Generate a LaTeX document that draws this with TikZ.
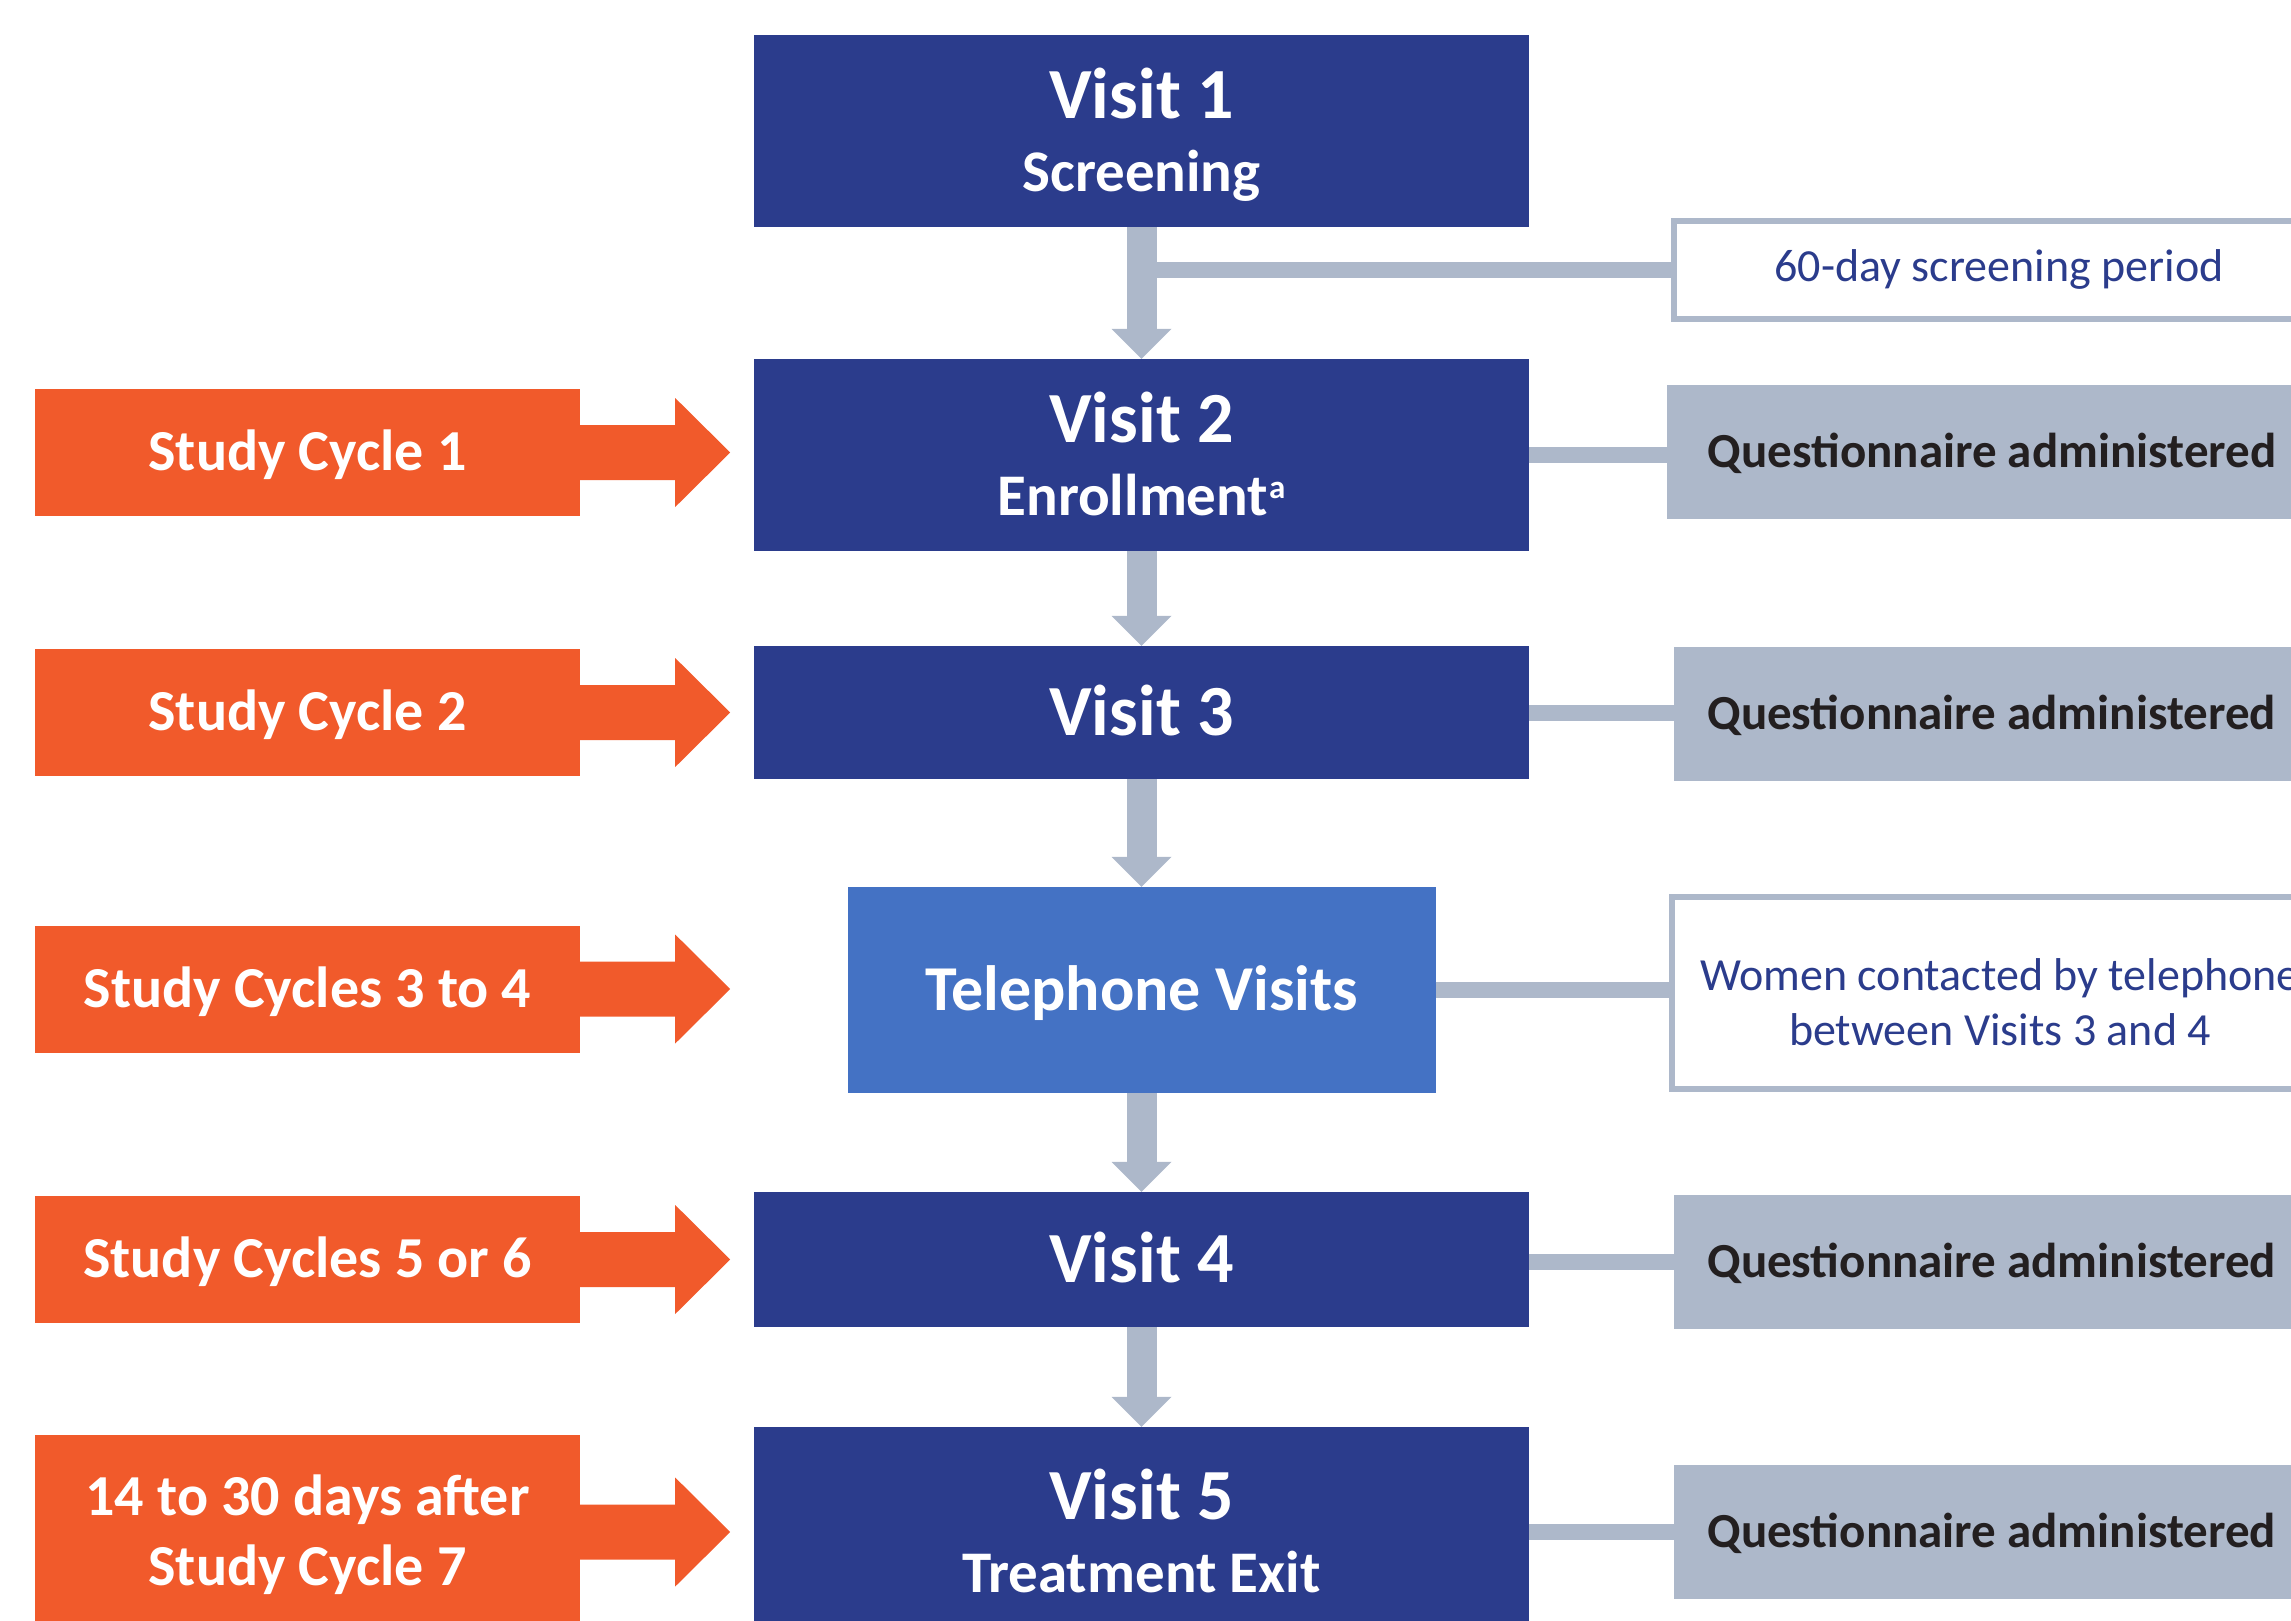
\documentclass[tikz,border=0pt]{standalone}
\usepackage{fontspec}
\setmainfont{Carlito}
\usetikzlibrary{arrows.meta}
\definecolor{vblue}{HTML}{2B3C8C}
\definecolor{tblue}{HTML}{4472C4}
\definecolor{orng}{HTML}{F15A2B}
\definecolor{gblue}{HTML}{ADB8CA}
\definecolor{qtext}{HTML}{231F20}
\newcommand{\twolines}[2]{\begin{tabular}[t]{@{}c@{}}#1\\#2\end{tabular}}
\newcommand{\supa}{\kern1pt\raisebox{17pt}{\fontsize{33}{33}\selectfont a}}
\begin{document}
\begin{tikzpicture}[x=1pt,y=-1pt,
  visit/.style={fill=vblue, text=white, inner sep=0pt, minimum width=775pt,
    font=\bfseries\fontsize{72}{73}\selectfont, text height=45.5pt, text depth=0pt},
  visit2/.style={visit, minimum height=192pt, text depth=70pt},
  telbox/.style={fill=tblue, text=white, inner sep=0pt, minimum width=588pt, minimum height=206pt,
    font=\bfseries\fontsize{64}{70}\selectfont, text height=40.4pt, text depth=0pt},
  obox/.style={fill=orng, text=white, inner sep=0pt, minimum width=545pt, minimum height=127pt,
    font=\bfseries\fontsize{58}{70}\selectfont, text height=36.7pt, text depth=0pt},
  qbox/.style={fill=gblue, text=qtext, inner sep=0pt, anchor=west, minimum height=134pt,
    font=\bfseries\fontsize{49}{59}\selectfont, text height=31pt, text depth=0pt},
  wbox/.style={draw=gblue, line width=6pt, fill=white, text=vblue, inner sep=0pt, anchor=west,
    font=\fontsize{46}{55}\selectfont},
  garrow/.style={draw=gblue, line width=30pt, -{Triangle[length=30pt,width=60pt,line width=0pt]}},
  oarrow/.style={fill=orng},
  gline/.style={draw=gblue, line width=16pt}
]
\useasboundingbox (0,0) rectangle (2291,1620);
\clip (0,0) rectangle (2291,1620);

% central column
\node[visit2] (v1) at (1141.5,131) {\twolines{Visit 1}{\fontsize{59}{73}\selectfont Screening}};
\node[visit2] (v2) at (1141.5,455) {\twolines{Visit 2}{\fontsize{59}{73}\selectfont Enrollment\supa}};
\node[visit, minimum height=133pt] (v3) at (1141.5,712.5) {Visit 3};
\node[telbox] (tel) at (1141.5,990) {Telephone Visits};
\node[visit, minimum height=135pt] (v4) at (1141.5,1259.5) {Visit 4};
\node[visit2, minimum height=210pt] (v5) at (1141.5,1532) {\twolines{Visit 5}{\fontsize{59}{73}\selectfont Treatment Exit}};

% left column
\node[obox] (o1) at (307.5,452.5) {Study Cycle 1};
\node[obox] (o2) at (307.5,712.5) {Study Cycle 2};
\node[obox] (o3) at (307.5,989) {Study Cycles 3 to 4};
\node[obox] (o4) at (307.5,1259.5) {Study Cycles 5 or 6};
\node[obox, minimum height=194pt, text depth=70pt] (o5) at (307.5,1532) {\twolines{14 to 30 days after}{Study Cycle 7}};

% right column
\node[wbox, minimum width=650pt, minimum height=98pt, text height=29pt, text depth=6pt] (d60) at (1671,270) {60-day screening period};
\node[qbox, minimum width=650pt] (q1) at (1667,452) {Questionnaire administered};
\node[qbox, minimum width=635pt] (q2) at (1674,713.5) {Questionnaire administered};
\node[wbox, minimum width=656pt, minimum height=192pt, text height=29pt, text depth=35pt] (wom) at (1669,993) {\twolines{Women contacted by telephone}{between Visits 3 and 4}};
\node[qbox, minimum width=635pt] (q3) at (1674,1262) {Questionnaire administered};
\node[qbox, minimum width=635pt] (q4) at (1674,1532) {Questionnaire administered};

% grey connectors to the right
\draw[gline] (v1.south |- d60.west) -- (d60.west);
\draw[gline] (v2.east) -- (v2.east -| q1.west);
\draw[gline] (v3.east) -- (v3.east -| q2.west);
\draw[gline] (tel.east) -- (tel.east -| wom.west);
\draw[gline] (v4.east |- q3.west) -- (q3.west);
\draw[gline] (v5.east) -- (v5.east -| q4.west);

% vertical arrows
\draw[garrow] (v1.south) -- (v2.north);
\draw[garrow] (v2.south) -- (v3.north);
\draw[garrow] (v3.south) -- (tel.north);
\draw[garrow] (tel.south) -- (v4.north);
\draw[garrow] (v4.south) -- (v5.north);

% orange block arrows leaving the orange boxes
\foreach \o in {o1,o2,o3,o4,o5}{
  \fill[oarrow] (\o.east) ++(-1,-27.5) -- ++(96,0) -- ++(0,-27) -- ++(55,54.5)
    -- ++(-55,54.5) -- ++(0,-27) -- ++(-96,0) -- cycle;
}
\end{tikzpicture}
\end{document}
